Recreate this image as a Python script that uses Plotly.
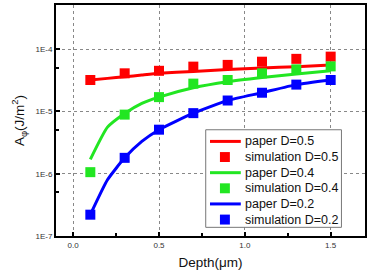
import plotly.graph_objects as go

# Simulation points
sim_x = [0.1, 0.3, 0.5, 0.7, 0.9, 1.1, 1.3, 1.5]
sim_d05 = [3.2e-5, 4.1e-5, 4.5e-5, 5.25e-5, 5.6e-5, 6.3e-5, 7.0e-5, 7.6e-5]
sim_d04 = [1.06e-6, 8.9e-6, 1.7e-5, 2.8e-5, 3.2e-5, 4.1e-5, 4.75e-5, 5.3e-5]
sim_d02 = [2.2e-7, 1.8e-6, 5.1e-6, 9.4e-6, 1.5e-5, 2.0e-5, 2.7e-5, 3.2e-5]

# Paper curves
paper_x = [0.1, 0.2, 0.3, 0.4, 0.5, 0.7, 0.9, 1.1, 1.3, 1.5]
paper_d05 = [3.2e-5, 3.4e-5, 3.6e-5, 3.85e-5, 4.1e-5, 4.4e-5, 4.7e-5, 5.0e-5, 5.25e-5, 5.6e-5]
paper_d04 = [1.7e-6, 5.6e-6, 9.3e-6, 1.35e-5, 1.7e-5, 2.4e-5, 3.0e-5, 3.5e-5, 4.0e-5, 4.5e-5]
paper_d02 = [2.2e-7, 8.0e-7, 1.8e-6, 3.3e-6, 5.1e-6, 9.4e-6, 1.5e-5, 2.0e-5, 2.7e-5, 3.2e-5]

y_tickvals = [1e-7, 1e-6, 1e-5, 1e-4]
y_ticktext = ["1E-7", "1E-6", "1E-5", "1E-4"]
x_tickvals = [0.0, 0.5, 1.0, 1.5]
x_ticktext = ["0.0", "0.5", "1.0", "1.5"]

RED, GREEN, BLUE = "#ff0000", "#22e622", "#0000ff"
FONT = "Liberation Sans, Arial, sans-serif"

W, H = 370, 271
ML, MR, MT, MB = 56, 3, 4, 35
PW, PH = W - ML - MR, H - MT - MB


def px(x):
    return (x - ML) / PW


def py(y):
    return (H - MB - y) / PH


series = [
    ("paper D=0.5", "simulation D=0.5", paper_d05, sim_d05, RED),
    ("paper D=0.4", "simulation D=0.4", paper_d04, sim_d04, GREEN),
    ("paper D=0.2", "simulation D=0.2", paper_d02, sim_d02, BLUE),
]

fig = go.Figure()
for name_p, name_s, p_y, s_y, c in series:
    fig.add_trace(go.Scatter(x=paper_x, y=p_y, mode="lines", name=name_p, showlegend=False,
                             line=dict(color=c, width=3, shape="spline", smoothing=0.5)))
    fig.add_trace(go.Scatter(x=sim_x, y=s_y, mode="markers", name=name_s, showlegend=False,
                             marker=dict(color=c, symbol="square", size=10, line=dict(width=0))))

# Manual legend (compact, like the original)
shapes = [dict(type="rect", xref="paper", yref="paper", layer="above",
               x0=px(206.7), x1=px(343.3), y0=py(227.3), y1=py(129.3),
               fillcolor="white", line=dict(color="#777", width=1))]
annotations = []
row_y0, row_dy = 141.0, 15.7
i = 0
for name_p, name_s, _, _, c in series:
    yl = row_y0 + row_dy * i
    shapes.append(dict(type="line", xref="paper", yref="paper", layer="above",
                       x0=px(211), x1=px(242), y0=py(yl), y1=py(yl),
                       line=dict(color=c, width=3)))
    annotations.append(dict(xref="paper", yref="paper", x=px(244), y=py(yl), text=name_p,
                            showarrow=False, xanchor="left", yanchor="middle",
                            font=dict(family=FONT, size=12.5, color="#111")))
    i += 1
    ym = row_y0 + row_dy * i
    shapes.append(dict(type="rect", xref="paper", yref="paper", layer="above",
                       x0=px(221), x1=px(231), y0=py(ym + 5), y1=py(ym - 5),
                       fillcolor=c, line=dict(width=0)))
    annotations.append(dict(xref="paper", yref="paper", x=px(244), y=py(ym), text=name_s,
                            showarrow=False, xanchor="left", yanchor="middle",
                            font=dict(family=FONT, size=12.5, color="#111")))
    i += 1

fig.update_layout(
    width=W, height=H,
    margin=dict(l=ML, r=MR, t=MT, b=MB),
    paper_bgcolor="white", plot_bgcolor="white",
    font=dict(family=FONT, color="#222"),
    showlegend=False,
    shapes=shapes, annotations=annotations,
    xaxis=dict(range=[-0.1, 1.7], tickvals=x_tickvals, ticktext=x_ticktext,
               ticks="inside", ticklen=4, tickwidth=1.5, tickcolor="black",
               tickfont=dict(size=8, color="#333"),
               showgrid=True, gridcolor="#888", griddash="dot", gridwidth=1,
               showline=True, linecolor="black", linewidth=2, mirror=True,
               zeroline=False,
               minor=dict(dtick=0.25, tick0=0, ticks="inside", ticklen=3, tickcolor="black", showgrid=False),
               title=dict(text="Depth(\u03bcm)", font=dict(size=13.5, color="#111"), standoff=9)),
    yaxis=dict(type="log", range=[-7, -3.29], tickvals=y_tickvals, ticktext=y_ticktext,
               ticks="inside", ticklen=4, tickwidth=1.5, tickcolor="black",
               tickfont=dict(size=8, color="#333"),
               showgrid=True, gridcolor="#888", griddash="dot", gridwidth=1,
               showline=True, linecolor="black", linewidth=2, mirror=True,
               zeroline=False,
               minor=dict(tickvals=[5e-7, 5e-6, 5e-5], ticks="inside", ticklen=3, tickcolor="black", showgrid=False),
               title=dict(text="A<sub>\u03c6</sub>(J/m<sup>2</sup>)", font=dict(size=13.5, color="#111"), standoff=8)),
)

fig.write_html("out.html")
